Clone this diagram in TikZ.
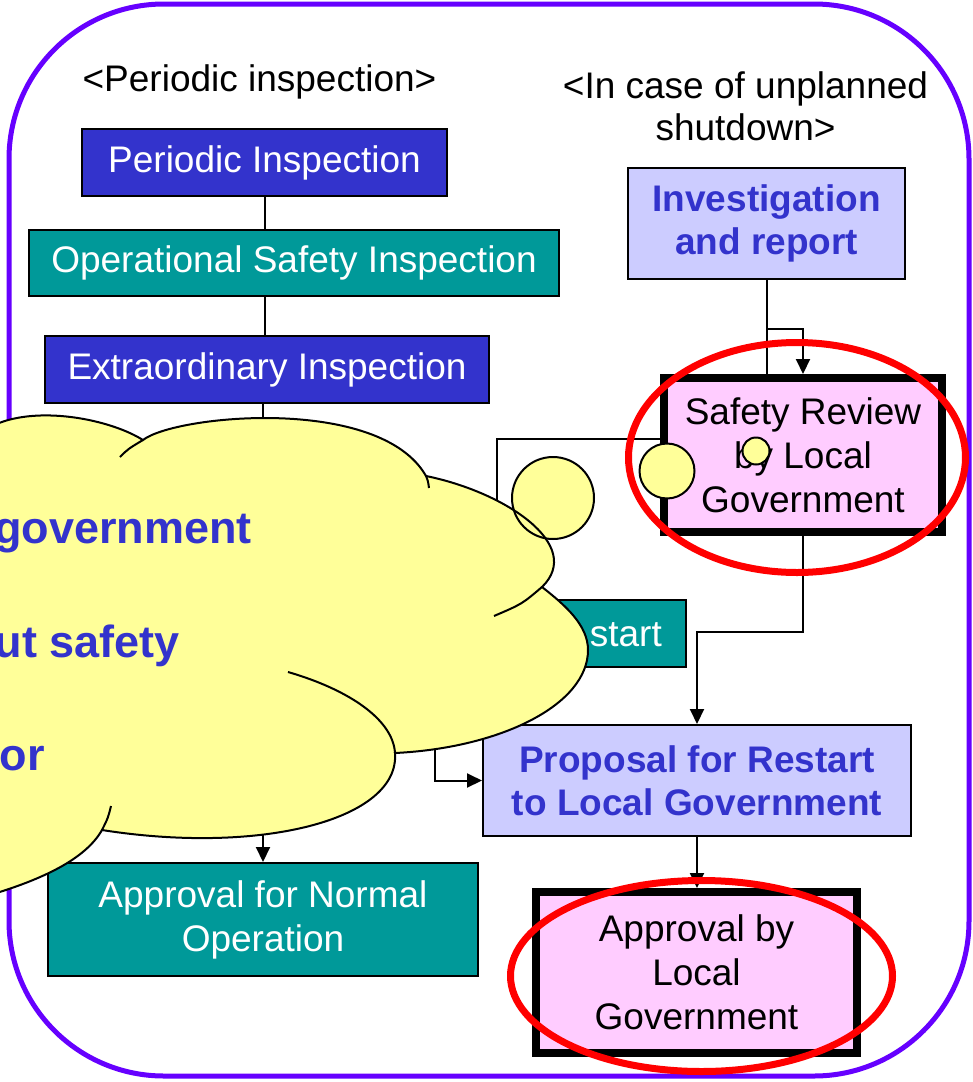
\documentclass[tikz,border=0pt]{standalone}
\usepackage{fontspec}
\setmainfont{Liberation Sans}
\usetikzlibrary{arrows.meta,calc}

\definecolor{boxblue}{HTML}{3333CC}
\definecolor{boxteal}{HTML}{009999}
\definecolor{lavender}{HTML}{CCCCFF}
\definecolor{pinkfill}{HTML}{FFCCFF}
\definecolor{cloudyellow}{HTML}{FFFF99}
\definecolor{frameviolet}{HTML}{6600FF}

\tikzset{
  boxbase/.style={font=\fontsize{37}{44}\selectfont, align=center, inner sep=0pt,
                  draw=black, line width=2pt},
  bluebox/.style={boxbase, fill=boxblue, text=white},
  tealbox/.style={boxbase, fill=boxteal, text=white},
  lavbox/.style={boxbase, fill=lavender, text=boxblue,
                 font=\fontsize{37}{43}\selectfont\bfseries},
  govbox/.style={boxbase, fill=pinkfill, line width=8pt},
  plainlink/.style={line width=2pt},
  arrowed/.style={plainlink, -{Triangle[length=15pt,width=14pt]}},
  redring/.style={draw=red, line width=7pt},
  headline/.style={font=\fontsize{37}{42}\selectfont, align=center, inner sep=0pt},
  cloudtext/.style={font=\fontsize{45}{54}\selectfont\bfseries, text=boxblue,
                    inner sep=0pt, anchor=base east},
  cloudline/.style={line width=2pt},
}

% outline of the thought cloud (its left part runs past the page edge)
\def\cloudpath{(-60,470) -- (-40,470)
  .. controls (-30,395) and (95,410) .. (143,440)
  .. controls (175,415) and (380,395) .. (426,476)
  .. controls (505,492) and (585,545) .. (542,587)
  .. controls (565,605) and (588,625) .. (588,650)
  .. controls (588,705) and (500,748) .. (395,753)
  .. controls (400,820) and (260,855) .. (102,830)
  .. controls (85,860) and (40,880) .. (-10,895)
  -- (-60,895) -- cycle}

\begin{document}
\begin{tikzpicture}[x=1pt,y=-1pt]
\useasboundingbox (0,0) rectangle (973,1082);
\fill[white] (0,0) rectangle (973,1082);
\clip (0,0) rectangle (973,1082);

% frame
\draw[frameviolet, line width=5pt, rounded corners=155pt] (9,4) rectangle (969,1076);

% column headings
\node[headline, anchor=base] (h1) at (259.5,91) {<Periodic inspection>};
\node[headline] (h2) at (745.5,106.5) {<In case of unplanned\\shutdown>};

% left column
\node[bluebox, minimum width=365pt, minimum height=67pt] (pi) at (264.5,162.5) {Periodic Inspection};
\node[tealbox, minimum width=530pt, minimum height=66pt] (osi) at (294,263) {Operational Safety Inspection};
\node[bluebox, minimum width=444pt, minimum height=67pt] (ei) at (267,369.5) {Extraordinary Inspection};
\node[tealbox, minimum width=378pt, minimum height=67pt] (rs) at (497,633.5) {};
\node[font=\fontsize{37}{44}\selectfont, text=white, inner sep=0pt, anchor=base east] (rstext) at (662,646) {start};
\node[tealbox, minimum width=430pt, minimum height=113pt] (ano) at (263,919.5) {Approval for Normal\\Operation};

% right column
\node[lavbox, minimum width=277pt, minimum height=111pt] (inv) at (766.5,223.5) {Investigation\\and report};
\node[govbox, minimum width=278pt, minimum height=154pt] (srl) at (803,455) {Safety Review\\by Local\\Government};
\node[lavbox, minimum width=428pt, minimum height=111pt] (prop) at (697,780.5) {Proposal for Restart\\to Local Government};
\node[govbox, minimum width=321pt, minimum height=161pt] (abl) at (696.5,972.5) {Approval by\\Local\\Government};

% connectors
\draw[plainlink] (pi.south) -- (pi.south |- osi.north);
\draw[plainlink] (pi.south |- osi.south) -- (pi.south |- ei.north);
\draw[arrowed] (ei.south -| ano.north) -- (ano.north);
\draw[plainlink] (inv.south) -- (inv.south |- srl.north);
\draw[arrowed] ($(inv.south)+(0,49)$) -| (srl.north);
\draw[arrowed] ($(srl.west)+(0,-16)$) -| (rs.north);
\draw[arrowed] (srl.south) -- ++(0,96) -| (prop.north);
\draw[arrowed] ($(rs.south)+(-62,0)$) |- (prop.west);
\draw[arrowed] (prop.south) -- (prop.south |- abl.north);

% highlight rings
\draw[redring] (797,457.5) ellipse [x radius=168.5pt, y radius=115pt];
\draw[redring] (701.5,976) ellipse [x radius=191pt, y radius=95.5pt];

% thought cloud: fills first, then outlines
\fill[cloudyellow] \cloudpath;
\fill[cloudyellow] (553,498) circle [radius=41pt];
\fill[cloudyellow] (667,471) circle [radius=27.5pt];
\fill[cloudyellow] (756,451) circle [radius=13.5pt];
\draw[cloudline] \cloudpath;
\draw[cloudline] (553,498) circle [radius=41pt];
\draw[cloudline] (667,471) circle [radius=27.5pt];
\draw[cloudline] (756,451) circle [radius=13.5pt];
% inner creases of the cloud
\draw[cloudline] (120,457) .. controls (128,449) .. (143,440);
\draw[cloudline] (426,476) .. controls (428,481) .. (429,488);
\draw[cloudline] (542,587) .. controls (522,604) .. (494,616);
\draw[cloudline] (288,672) .. controls (350,690) and (393,720) .. (395,753);
\draw[cloudline] (111,806) .. controls (108,818) .. (102,830);

% cloud text
\node[cloudtext] (c1) at (252,543) {government};
\node[cloudtext] (c2) at (180,657) {ut safety};
\node[cloudtext] (c3) at (45,770) {or};
\end{tikzpicture}
\end{document}
